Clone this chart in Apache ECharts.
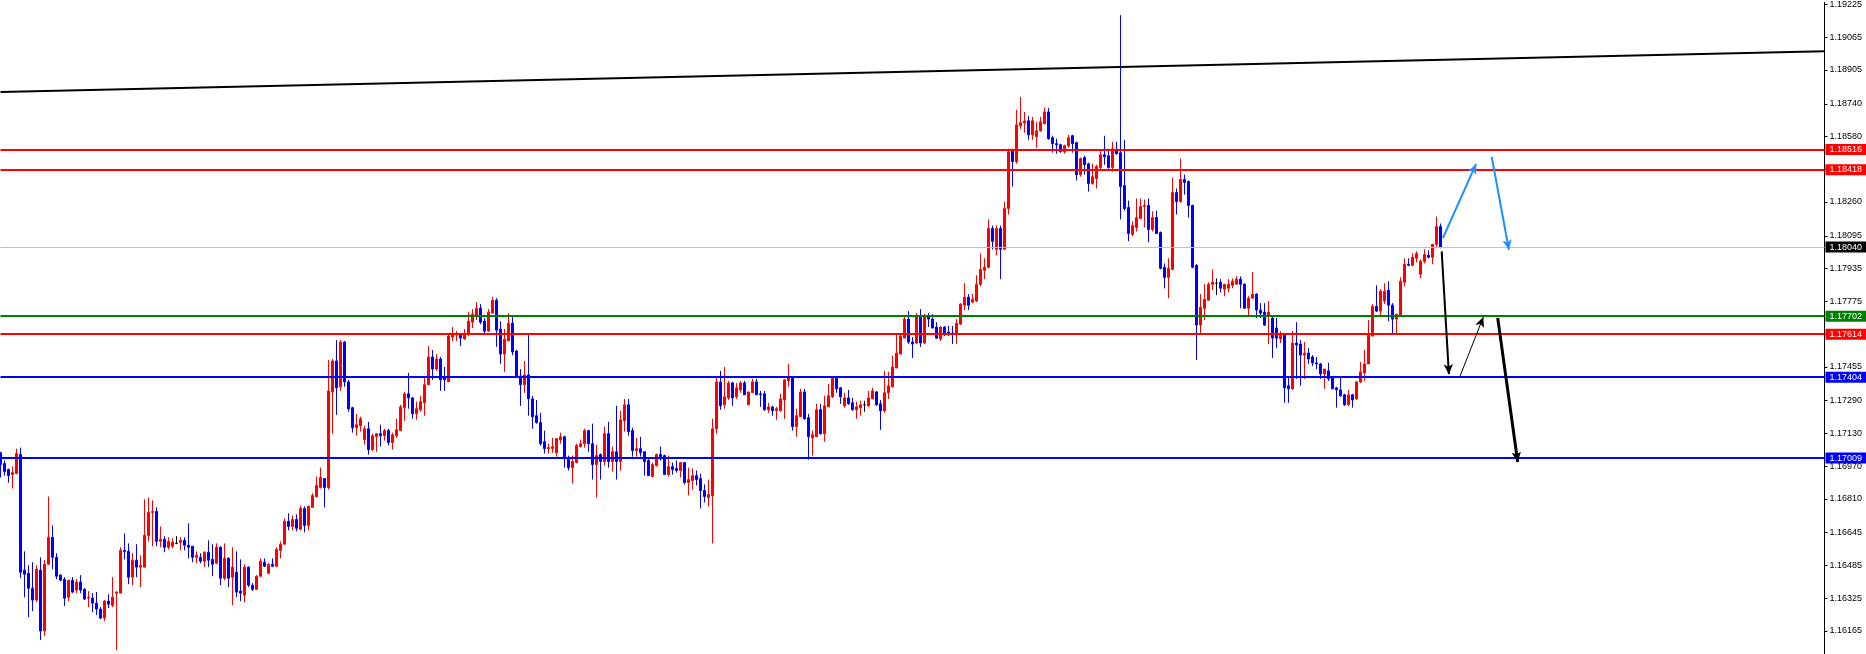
<!DOCTYPE html>
<html><head><meta charset="utf-8">
<script src="https://cdn.jsdelivr.net/npm/echarts@6/dist/echarts.min.js"></script>
<style>html,body{margin:0;padding:0;background:#fff;overflow:hidden}#c{width:1866px;height:654px}</style>
</head><body><div id="c"></div>
<script>
// ---- DATA (EURUSD-like price bars) ----
const opens = [
1.17035,1.16982,1.16953,1.16928,1.16933,1.17026,1.16461,1.16446,1.16373,1.16315,
1.16461,1.16164,1.16490,1.16622,1.16524,1.16437,1.16417,1.16329,1.16412,1.16364,
1.16403,1.16368,1.16325,1.16325,1.16300,1.16271,1.16227,1.16310,1.16290,1.16349,
1.16349,1.16558,1.16553,1.16427,1.16510,1.16476,1.16476,1.16631,1.16743,1.16748,
1.16602,1.16612,1.16573,1.16578,1.16592,1.16597,1.16607,1.16583,1.16578,1.16524,
1.16524,1.16505,1.16549,1.16514,1.16495,1.16573,1.16422,1.16519,1.16427,1.16451,
1.16359,1.16339,1.16476,1.16388,1.16368,1.16432,1.16500,1.16446,1.16490,1.16480,
1.16558,1.16588,1.16700,1.16675,1.16709,1.16661,1.16763,1.16680,1.16768,1.16821,
1.16865,1.16909,1.16865,1.17332,1.17483,1.17357,1.17576,1.17381,1.17255,1.17157,
1.17167,1.17099,1.17152,1.17050,1.17113,1.17128,1.17118,1.17143,1.17084,1.17118,
1.17143,1.17255,1.17323,1.17303,1.17225,1.17245,1.17279,1.17367,1.17503,1.17444,
1.17493,1.17401,1.17381,1.17600,1.17610,1.17615,1.17591,1.17615,1.17673,1.17698,
1.17741,1.17678,1.17629,1.17717,1.17780,1.17639,1.17517,1.17581,1.17668,1.17532,
1.17410,1.17367,1.17415,1.17298,1.17216,1.17182,1.17089,1.17055,1.17055,1.17035,
1.17099,1.17113,1.17011,1.16962,1.16987,1.17065,1.17079,1.17143,1.17079,1.16977,
1.17026,1.16992,1.17128,1.16992,1.17040,1.16992,1.17191,1.17269,1.17143,1.17045,
1.17055,1.17040,1.16997,1.16918,1.16972,1.17026,1.17021,1.16928,1.16967,1.16958,
1.16948,1.16987,1.16889,1.16899,1.16923,1.16909,1.16850,1.16816,1.16826,1.17152,
1.17381,1.17269,1.17303,1.17376,1.17308,1.17342,1.17376,1.17269,1.17328,1.17381,
1.17323,1.17323,1.17245,1.17259,1.17240,1.17240,1.17293,1.17386,1.17401,1.17162,
1.17211,1.17332,1.17206,1.17108,1.17113,1.17245,1.17128,1.17259,1.17308,1.17401,
1.17352,1.17264,1.17303,1.17279,1.17245,1.17255,1.17269,1.17264,1.17298,1.17332,
1.17274,1.17240,1.17328,1.17357,1.17449,1.17517,1.17595,1.17688,1.17576,1.17571,
1.17702,1.17571,1.17702,1.17688,1.17649,1.17591,1.17649,1.17625,1.17620,1.17615,
1.17663,1.17756,1.17795,1.17771,1.17776,1.17858,1.17926,1.17941,1.18131,1.18029,
1.18131,1.18029,1.18228,1.18511,1.18457,1.18632,1.18647,1.18657,1.18588,1.18579,
1.18608,1.18642,1.18700,1.18574,1.18545,1.18540,1.18506,1.18535,1.18584,1.18550,
1.18394,1.18477,1.18447,1.18350,1.18374,1.18428,1.18491,1.18486,1.18428,1.18515,
1.18501,1.18340,1.18233,1.18102,1.18136,1.18180,1.18238,1.18243,1.18126,1.18184,
1.18111,1.17941,1.17892,1.17931,1.18306,1.18262,1.18370,1.18360,1.18243,1.17951,
1.17659,1.17741,1.17780,1.17858,1.17863,1.17868,1.17834,1.17839,1.17853,1.17858,
1.17883,1.17858,1.17741,1.17790,1.17810,1.17732,1.17722,1.17702,1.17693,1.17644,
1.17591,1.17615,1.17362,1.17347,1.17571,1.17566,1.17512,1.17522,1.17503,1.17474,
1.17469,1.17420,1.17435,1.17401,1.17352,1.17342,1.17318,1.17269,1.17318,1.17298,
1.17381,1.17425,1.17469,1.17605,1.17751,1.17727,1.17776,1.17829,1.17756,1.17688,
1.17707,1.17868,1.17956,1.17951,1.17985,1.17907,1.17970,1.17999,1.17990,1.18053,1.18140
];
const highs = [
1.17040,1.16997,1.16958,1.16968,1.17055,1.17060,1.16553,1.16485,1.16500,1.16485,
1.16524,1.16510,1.16821,1.16680,1.16544,1.16441,1.16427,1.16412,1.16427,1.16417,
1.16437,1.16373,1.16359,1.16349,1.16354,1.16281,1.16315,1.16344,1.16427,1.16359,
1.16573,1.16641,1.16592,1.16544,1.16588,1.16534,1.16807,1.16816,1.16802,1.16768,
1.16675,1.16627,1.16622,1.16617,1.16627,1.16622,1.16622,1.16690,1.16578,1.16553,
1.16544,1.16553,1.16607,1.16588,1.16592,1.16578,1.16592,1.16524,1.16573,1.16553,
1.16514,1.16490,1.16480,1.16398,1.16437,1.16519,1.16519,1.16495,1.16519,1.16573,
1.16602,1.16714,1.16739,1.16729,1.16734,1.16777,1.16773,1.16777,1.16836,1.16919,
1.16962,1.16909,1.17488,1.17493,1.17585,1.17586,1.17581,1.17391,1.17259,1.17225,
1.17211,1.17167,1.17186,1.17128,1.17128,1.17172,1.17152,1.17152,1.17133,1.17201,
1.17269,1.17332,1.17425,1.17308,1.17284,1.17313,1.17401,1.17556,1.17537,1.17517,
1.17503,1.17454,1.17615,1.17649,1.17629,1.17615,1.17639,1.17722,1.17737,1.17771,
1.17761,1.17693,1.17737,1.17795,1.17790,1.17678,1.17639,1.17717,1.17698,1.17537,
1.17444,1.17483,1.17610,1.17313,1.17293,1.17230,1.17143,1.17079,1.17108,1.17104,
1.17133,1.17118,1.17021,1.17021,1.17079,1.17099,1.17152,1.17147,1.17177,1.17074,
1.17031,1.17162,1.17186,1.17065,1.17264,1.17240,1.17298,1.17298,1.17157,1.17108,
1.17113,1.17040,1.17006,1.16987,1.17031,1.17065,1.17026,1.17021,1.16987,1.16997,
1.16987,1.16987,1.16962,1.16958,1.16948,1.16933,1.16880,1.16904,1.17201,1.17401,
1.17435,1.17454,1.17386,1.17381,1.17376,1.17386,1.17386,1.17332,1.17396,1.17396,
1.17337,1.17337,1.17279,1.17264,1.17259,1.17323,1.17396,1.17469,1.17405,1.17250,
1.17347,1.17347,1.17225,1.17143,1.17274,1.17274,1.17313,1.17371,1.17410,1.17410,
1.17357,1.17328,1.17342,1.17303,1.17284,1.17289,1.17289,1.17337,1.17352,1.17337,
1.17293,1.17435,1.17430,1.17508,1.17615,1.17620,1.17702,1.17727,1.17600,1.17717,
1.17737,1.17712,1.17717,1.17712,1.17673,1.17654,1.17654,1.17654,1.17654,1.17688,
1.17766,1.17863,1.17810,1.17810,1.17902,1.18009,1.17985,1.18175,1.18145,1.18145,
1.18145,1.18262,1.18521,1.18520,1.18710,1.18774,1.18700,1.18681,1.18676,1.18652,
1.18676,1.18720,1.18720,1.18584,1.18569,1.18545,1.18540,1.18588,1.18588,1.18554,
1.18477,1.18486,1.18452,1.18447,1.18442,1.18515,1.18584,1.18520,1.18554,1.18554,
1.19173,1.18564,1.18267,1.18165,1.18277,1.18277,1.18272,1.18277,1.18214,1.18218,
1.18116,1.17960,1.17985,1.18379,1.18326,1.18472,1.18394,1.18365,1.18248,1.17956,
1.17810,1.17858,1.17868,1.17931,1.17887,1.17883,1.17858,1.17883,1.17887,1.17897,
1.17897,1.17863,1.17800,1.17917,1.17814,1.17766,1.17766,1.17776,1.17702,1.17693,
1.17629,1.17615,1.17401,1.17629,1.17673,1.17586,1.17576,1.17546,1.17512,1.17503,
1.17474,1.17444,1.17474,1.17405,1.17357,1.17405,1.17323,1.17342,1.17323,1.17386,
1.17478,1.17537,1.17683,1.17761,1.17853,1.17834,1.17863,1.17873,1.17766,1.17712,
1.17892,1.17985,1.17985,1.18009,1.18019,1.17980,1.18029,1.18024,1.18053,1.18189,1.18155
];
const lows = [
1.16914,1.16923,1.16889,1.16860,1.16933,1.16422,1.16329,1.16232,1.16261,1.16305,
1.16120,1.16140,1.16490,1.16466,1.16417,1.16407,1.16286,1.16310,1.16349,1.16349,
1.16349,1.16315,1.16281,1.16256,1.16242,1.16222,1.16213,1.16276,1.16281,1.16071,
1.16349,1.16514,1.16393,1.16388,1.16427,1.16378,1.16476,1.16602,1.16578,1.16578,
1.16573,1.16549,1.16563,1.16568,1.16588,1.16558,1.16558,1.16519,1.16500,1.16495,
1.16495,1.16476,1.16476,1.16432,1.16490,1.16388,1.16412,1.16378,1.16290,1.16329,
1.16310,1.16305,1.16378,1.16359,1.16364,1.16427,1.16476,1.16441,1.16476,1.16476,
1.16519,1.16588,1.16656,1.16656,1.16651,1.16656,1.16646,1.16656,1.16768,1.16816,
1.16860,1.16768,1.16855,1.17128,1.17220,1.17337,1.17357,1.17235,1.17133,1.17118,
1.17138,1.17074,1.17026,1.17045,1.17040,1.17065,1.17094,1.17070,1.17050,1.17108,
1.17143,1.17191,1.17250,1.17201,1.17196,1.17235,1.17216,1.17367,1.17391,1.17435,
1.17337,1.17337,1.17381,1.17581,1.17581,1.17556,1.17586,1.17605,1.17644,1.17683,
1.17663,1.17620,1.17625,1.17717,1.17552,1.17469,1.17430,1.17581,1.17512,1.17401,
1.17264,1.17328,1.17216,1.17152,1.17177,1.17070,1.17031,1.17031,1.17035,1.17016,
1.17079,1.16962,1.16948,1.16885,1.16982,1.17060,1.17060,1.17040,1.16904,1.16816,
1.16904,1.16972,1.16962,1.16943,1.16904,1.16948,1.17138,1.17118,1.17016,1.17016,
1.17016,1.16923,1.16923,1.16918,1.16967,1.16997,1.16928,1.16918,1.16928,1.16938,
1.16914,1.16880,1.16826,1.16855,1.16875,1.16763,1.16792,1.16773,1.16592,1.17128,
1.17245,1.17250,1.17293,1.17264,1.17298,1.17328,1.17318,1.17269,1.17328,1.17318,
1.17259,1.17240,1.17230,1.17216,1.17196,1.17235,1.17201,1.17357,1.17143,1.17113,
1.17211,1.17196,1.17001,1.17021,1.17113,1.17123,1.17089,1.17259,1.17303,1.17328,
1.17274,1.17255,1.17269,1.17240,1.17201,1.17216,1.17235,1.17259,1.17298,1.17264,
1.17147,1.17230,1.17298,1.17352,1.17449,1.17517,1.17595,1.17566,1.17498,1.17566,
1.17552,1.17566,1.17649,1.17644,1.17591,1.17581,1.17605,1.17605,1.17566,1.17566,
1.17659,1.17732,1.17732,1.17766,1.17771,1.17848,1.17883,1.17936,1.18028,1.17999,
1.17883,1.18029,1.18199,1.18335,1.18447,1.18617,1.18598,1.18564,1.18564,1.18525,
1.18603,1.18642,1.18564,1.18501,1.18496,1.18501,1.18496,1.18525,1.18501,1.18365,
1.18384,1.18394,1.18311,1.18345,1.18326,1.18418,1.18442,1.18423,1.18408,1.18491,
1.18175,1.18218,1.18068,1.18092,1.18116,1.18175,1.18136,1.18063,1.18116,1.18106,
1.17931,1.17838,1.17790,1.17926,1.18199,1.18257,1.18296,1.18184,1.17936,1.17488,
1.17615,1.17683,1.17780,1.17829,1.17805,1.17819,1.17800,1.17819,1.17839,1.17858,
1.17741,1.17737,1.17707,1.17790,1.17693,1.17693,1.17654,1.17566,1.17498,1.17546,
1.17571,1.17279,1.17279,1.17342,1.17396,1.17362,1.17396,1.17469,1.17459,1.17444,
1.17396,1.17347,1.17386,1.17347,1.17255,1.17308,1.17264,1.17264,1.17255,1.17293,
1.17376,1.17386,1.17469,1.17605,1.17722,1.17707,1.17761,1.17678,1.17620,1.17620,
1.17707,1.17848,1.17946,1.17946,1.17965,1.17887,1.17960,1.17985,1.17956,1.18034,1.18034
];
const closes = [
1.16977,1.16943,1.16923,1.16938,1.17031,1.16451,1.16441,1.16373,1.16315,1.16466,
1.16164,1.16490,1.16622,1.16524,1.16432,1.16412,1.16324,1.16412,1.16354,1.16403,
1.16364,1.16320,1.16329,1.16300,1.16271,1.16227,1.16310,1.16295,1.16329,1.16354,
1.16558,1.16553,1.16427,1.16510,1.16476,1.16485,1.16632,1.16743,1.16748,1.16602,
1.16612,1.16573,1.16602,1.16597,1.16592,1.16607,1.16583,1.16573,1.16524,1.16534,
1.16505,1.16549,1.16510,1.16490,1.16573,1.16422,1.16519,1.16422,1.16476,1.16354,
1.16349,1.16476,1.16388,1.16368,1.16432,1.16505,1.16480,1.16490,1.16480,1.16563,
1.16588,1.16700,1.16675,1.16709,1.16666,1.16763,1.16680,1.16773,1.16826,1.16875,
1.16914,1.16865,1.17337,1.17483,1.17352,1.17576,1.17381,1.17249,1.17157,1.17172,
1.17201,1.17152,1.17050,1.17118,1.17128,1.17118,1.17143,1.17084,1.17123,1.17147,
1.17259,1.17323,1.17303,1.17225,1.17250,1.17284,1.17367,1.17503,1.17444,1.17493,
1.17391,1.17391,1.17605,1.17615,1.17615,1.17595,1.17610,1.17678,1.17712,1.17741,
1.17673,1.17629,1.17722,1.17780,1.17634,1.17517,1.17590,1.17668,1.17527,1.17405,
1.17367,1.17415,1.17298,1.17211,1.17182,1.17079,1.17055,1.17060,1.17065,1.17104,
1.17113,1.17011,1.16962,1.16992,1.17070,1.17079,1.17143,1.17079,1.16977,1.17021,
1.16992,1.17128,1.16992,1.17040,1.16992,1.17196,1.17269,1.17138,1.17045,1.17055,
1.17035,1.16992,1.16923,1.16977,1.17026,1.17006,1.16928,1.16967,1.16953,1.16948,
1.16987,1.16889,1.16904,1.16923,1.16904,1.16850,1.16821,1.16831,1.17152,1.17381,
1.17264,1.17308,1.17376,1.17303,1.17352,1.17376,1.17318,1.17332,1.17381,1.17318,
1.17318,1.17245,1.17259,1.17240,1.17250,1.17298,1.17391,1.17401,1.17162,1.17216,
1.17332,1.17201,1.17113,1.17123,1.17245,1.17128,1.17264,1.17313,1.17401,1.17347,
1.17308,1.17303,1.17274,1.17245,1.17259,1.17269,1.17269,1.17303,1.17337,1.17269,
1.17240,1.17328,1.17362,1.17454,1.17522,1.17605,1.17688,1.17576,1.17566,1.17702,
1.17571,1.17702,1.17688,1.17644,1.17595,1.17649,1.17610,1.17615,1.17615,1.17668,
1.17761,1.17795,1.17756,1.17785,1.17858,1.17931,1.17941,1.18131,1.18068,1.18131,
1.18029,1.18228,1.18506,1.18457,1.18637,1.18647,1.18656,1.18588,1.18657,1.18608,
1.18652,1.18700,1.18569,1.18545,1.18540,1.18506,1.18535,1.18574,1.18545,1.18394,
1.18472,1.18442,1.18350,1.18384,1.18433,1.18491,1.18481,1.18428,1.18520,1.18496,
1.18335,1.18228,1.18106,1.18145,1.18184,1.18238,1.18243,1.18126,1.18184,1.18106,
1.17936,1.17892,1.17936,1.18306,1.18262,1.18370,1.18355,1.18243,1.17941,1.17659,
1.17746,1.17785,1.17858,1.17868,1.17863,1.17839,1.17858,1.17858,1.17873,1.17883,
1.17858,1.17741,1.17790,1.17810,1.17732,1.17717,1.17659,1.17722,1.17595,1.17595,
1.17615,1.17352,1.17347,1.17571,1.17561,1.17512,1.17522,1.17493,1.17474,1.17469,
1.17420,1.17444,1.17396,1.17347,1.17342,1.17313,1.17269,1.17318,1.17293,1.17381,
1.17430,1.17469,1.17615,1.17751,1.17727,1.17824,1.17824,1.17756,1.17688,1.17712,
1.17873,1.17956,1.17951,1.17990,1.18009,1.17970,1.18004,1.17990,1.18053,1.18140,1.18040
];
// horizontal price levels (top to bottom)
const levelValues = [1.18516, 1.18418, 1.18040, 1.17702, 1.17614, 1.17404, 1.17009];
// right price-scale tick labels
const tickValues = [1.19225,1.19065,1.18905,1.18740,1.18580,1.18420,1.18260,1.18095,1.17935,1.17775,
                    1.17615,1.17455,1.17290,1.17130,1.16970,1.16810,1.16645,1.16485,1.16325,1.16165];
// trend line: [bar index, price]
const trendLine = [[0, 1.18798], [456, 1.18997]];
// projected path arrows: [barFrom, priceFrom, barTo, priceTo]
const blueArrows = [[360.6, 1.18084, 368.9, 1.18446], [372.8, 1.18481, 377.1, 1.18027]];
const blackArrows = [[360.3, 1.18019, 362.1, 1.17419], [364.9, 1.17410, 370.7, 1.17698], [374.3, 1.17694, 379.3, 1.16990]];
const totalSlots = 457;

// ---- CHART ----
const RED = '#FF0000', BLUE = '#0000FF', GREEN = '#008000';
const levelColors = [RED, RED, '#C0C0C0', GREEN, RED, BLUE, BLUE];
const levelBoxColors = [RED, RED, '#000000', GREEN, RED, BLUE, BLUE];
const levelWidths = [2, 2, 1, 2, 2, 2, 2];
const FONT = '"Liberation Sans", Arial, sans-serif';

const cats = Array.from({length: totalSlots}, (_, i) => i);
const candleData = opens.map((o, i) => {
  const item = {value: [o, closes[i], lows[i], highs[i]]};
  if (o === closes[i]) item.itemStyle = {color: '#000', color0: '#000', borderColor: '#000', borderColor0: '#000'};
  return item;
});

// level lines as two-point segments spanning the whole bar range on the value x-axis
const levelLines = levelValues.map((v, k) => [
  {coord: [0, v], symbol: 'none',
   lineStyle: {color: levelColors[k], width: levelWidths[k], type: 'solid'},
   label: {
     show: true, position: 'end', distance: 1,
     formatter: v.toFixed(5),
     backgroundColor: levelBoxColors[k], color: '#FFFFFF',
     padding: [1, 4, 1, 4], fontSize: 9, fontFamily: FONT
   }},
  {coord: [totalSlots - 1, v], symbol: 'none'}
]);

function arrowItems(list, color, widths) {
  return list.map((a, k) => [
    {coord: [a[0], a[1]], symbol: 'none', lineStyle: {color: color, width: widths[k], type: 'solid'}, label: {show: false}},
    {coord: [a[2], a[3]], symbol: 'arrow'}
  ]);
}
const arrows = arrowItems(blueArrows, '#1E90FF', [2, 2])
  .concat(arrowItems(blackArrows, '#000000', [2, 1, 3]));

const chart = echarts.init(document.getElementById('c'), null, {renderer: 'canvas'});
chart.setOption({
  animation: false,
  backgroundColor: '#FFFFFF',
  grid: {left: 0.5, right: 41.5, top: 0, bottom: 0, containLabel: false},
  xAxis: [
    {type: 'category', data: cats, boundaryGap: false, show: false},
    {type: 'value', min: 0, max: totalSlots - 1, show: false}
  ],
  yAxis: {
    type: 'value', position: 'right', min: 1.160516, max: 1.192356, scale: true,
    axisLine: {show: true, onZero: false, lineStyle: {color: '#000', width: 1}},
    axisTick: {show: true, length: 3, customValues: tickValues, lineStyle: {color: '#000'}},
    axisLabel: {customValues: tickValues, formatter: v => v.toFixed(5), color: '#000',
                fontSize: 9, fontFamily: FONT, margin: 5},
    splitLine: {show: false}
  },
  series: [
    {
      type: 'candlestick',
      xAxisIndex: 0,
      data: candleData,
      barWidth: 2,
      itemStyle: {color: RED, color0: BLUE, borderColor: RED, borderColor0: BLUE, borderWidth: 1}
    },
    {
      type: 'line',
      xAxisIndex: 1,
      data: trendLine,
      symbol: 'none',
      lineStyle: {color: '#000', width: 2},
      z: 3,
      markLine: {
        silent: true, animation: false, symbolSize: [7, 10],
        data: levelLines.concat(arrows)
      }
    }
  ]
});
</script></body></html>
